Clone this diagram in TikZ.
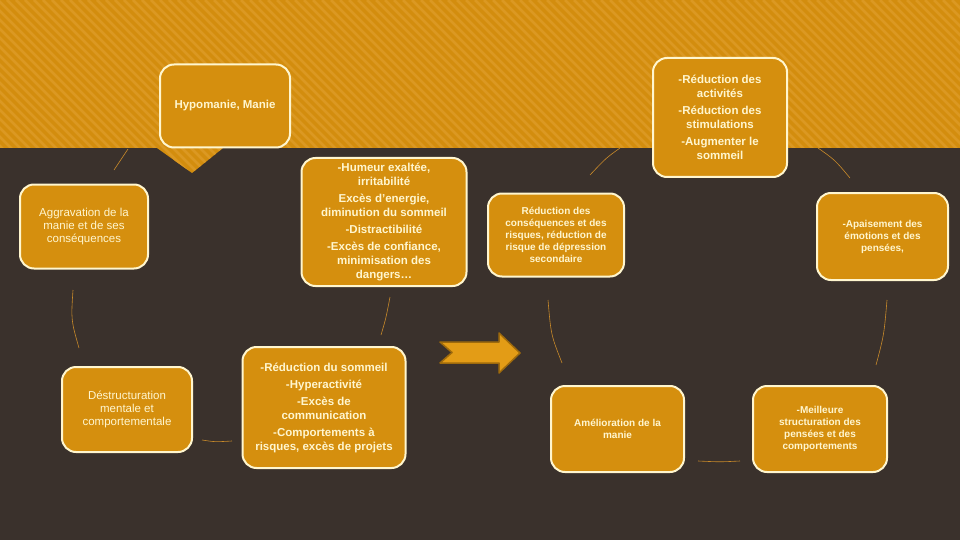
\documentclass[tikz,border=0pt]{standalone}
\usepackage{fontspec}
\setmainfont{Liberation Sans}
\definecolor{bgdark}{HTML}{3A312C}
\definecolor{boxorange}{HTML}{D58F0E}
\definecolor{bandorange}{HTML}{D38D0E}
\definecolor{bandstripe}{HTML}{DB9822}
\definecolor{cream}{HTML}{FFF6CF}
\definecolor{arrowedge}{HTML}{9E6A0C}
\definecolor{arrowfill}{HTML}{E39C16}
\definecolor{linkcol}{HTML}{C88A2A}
\tikzset{
  box/.style={draw=cream, line width=2pt, fill=boxorange, rounded corners=14pt,
    text=cream, align=center, inner sep=2pt, font=\bfseries\fontsize{11.5}{14}\selectfont},
  boxsmall/.style={box, font=\bfseries\fontsize{10}{12}\selectfont},
  boxplain/.style={box, font=\fontsize{11.5}{13}\selectfont},
  link/.style={linkcol, line width=0.6pt}
}
\begin{document}
\begin{tikzpicture}[x=1pt,y=-1pt]
  \useasboundingbox (0,0) rectangle (960,540);
  \fill[bgdark] (0,0) rectangle (960,540);
  % striped band with its chevron
  \fill[bandorange] (0,0) -- (960,0) -- (960,148) -- (223,148) -- (192,173) -- (157,148) -- (0,148) -- cycle;
  \begin{scope}
    \clip (0,0) -- (960,0) -- (960,148) -- (223,148) -- (192,173) -- (157,148) -- (0,148) -- cycle;
    \foreach \s in {-200,-191,...,960}
      \draw[bandstripe, line width=2.6pt] (\s,0) -- ++(200,200);
  \end{scope}

  % left cycle
  \node[box, minimum width=130pt, minimum height=83pt] (hypo) at (225,106) {Hypomanie, Manie};
  \node[boxplain, minimum width=128pt, minimum height=84pt] (aggr) at (84,226.5)
    {Aggravation de la\\ manie et de ses\\ conséquences};
  \node[box, minimum width=165pt, minimum height=128pt] (humeur) at (384,222)
    {-Humeur exaltée,\\ irritabilité\\[3pt] Excès d’energie,\\ diminution du sommeil\\[3pt]
     -Distractibilité\\[3pt] -Excès de confiance,\\ minimisation des\\ dangers…};
  \node[boxplain, minimum width=130pt, minimum height=85pt] (destr) at (127,409.5)
    {Déstructuration\\ mentale et\\ comportementale};
  \node[box, minimum width=163pt, minimum height=121pt] (reducsom) at (324,407.5)
    {-Réduction du sommeil\\[3pt] -Hyperactivité\\[3pt] -Excès de\\ communication\\[3pt]
     -Comportements à\\ risques, excès de projets};

  % right cycle
  \node[box, minimum width=134pt, minimum height=119pt] (reducact) at (720,117.5)
    {-Réduction des\\ activités\\[3pt] -Réduction des\\ stimulations\\[3pt] -Augmenter le\\ sommeil};
  \node[boxsmall, minimum width=136pt, minimum height=83pt] (reduccons) at (556,235)
    {Réduction des\\ conséquences et des\\ risques, réduction de\\ risque de dépression\\ secondaire};
  \node[boxsmall, minimum width=131pt, minimum height=87pt] (apais) at (882.5,236.5)
    {-Apaisement des\\ émotions et des\\ pensées,};
  \node[boxsmall, minimum width=133pt, minimum height=86pt] (amelio) at (617.5,429)
    {Amélioration de la\\ manie};
  \node[boxsmall, minimum width=134pt, minimum height=86pt] (meill) at (820,429)
    {-Meilleure\\ structuration des\\ pensées et des\\ comportements};

  % thin links of the cycles
  \coordinate (la1) at (128,149);  \coordinate (la2) at (114,170);
  \coordinate (lb1) at (73,290);   \coordinate (lb2) at (79,348);
  \coordinate (lc1) at (202,440);  \coordinate (lc2) at (232,441);
  \coordinate (ld1) at (390,297);  \coordinate (ld2) at (381,335);
  \coordinate (le1) at (620,148);  \coordinate (le2) at (590,175);
  \coordinate (lf1) at (548,300);  \coordinate (lf2) at (562,363);
  \coordinate (lg1) at (698,461);  \coordinate (lg2) at (740,461);
  \coordinate (lh1) at (887,300);  \coordinate (lh2) at (876,365);
  \coordinate (li1) at (818,148);  \coordinate (li2) at (850,178);
  \draw[link] (la1) -- (la2);
  \draw[link] (lb1) .. controls (71,320) .. (lb2);
  \draw[link] (lc1) .. controls (215,442) .. (lc2);
  \draw[link] (ld1) .. controls (386,318) .. (ld2);
  \draw[link] (le1) .. controls (606,158) .. (le2);
  \draw[link] (lf1) .. controls (551,335) .. (lf2);
  \draw[link] (lg1) .. controls (720,462) .. (lg2);
  \draw[link] (lh1) .. controls (884,335) .. (lh2);
  \draw[link] (li1) .. controls (835,160) .. (li2);

  % arrow between the cycles
  \draw[arrowedge, fill=arrowfill, line width=1.5pt, line join=round]
    (440,342) -- (499,342) -- (499,333) -- (520,353) -- (499,373) -- (499,363)
    -- (440,363) -- (452,352.5) -- cycle;
\end{tikzpicture}
\end{document}
